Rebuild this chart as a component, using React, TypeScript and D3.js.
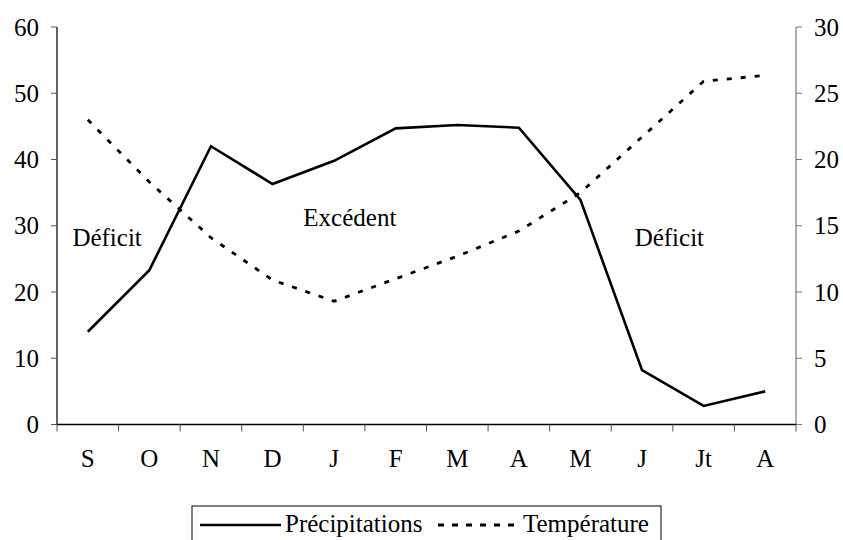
import React from 'react';
import * as d3 from 'd3';

// monthly values
const months = ['S', 'O', 'N', 'D', 'J', 'F', 'M', 'A', 'M', 'J', 'Jt', 'A'];
const precipitations = [14, 23.3, 42, 36.3, 39.8, 44.7, 45.2, 44.8, 33.9, 8.2, 2.8, 5.0];
const temperature = [23, 18.3, 14.1, 10.9, 9.3, 11, 12.7, 14.6, 17.5, 21.7, 25.9, 26.35];
const leftTicks = [0, 10, 20, 30, 40, 50, 60];
const rightTicks = [0, 5, 10, 15, 20, 25, 30];
const annotations = [
    { text: 'Déficit', x: 0.25, y: 27 },
    { text: 'Excédent', x: 4.0, y: 30 },
    { text: 'Déficit', x: 9.38, y: 27 },
];

const W = 843;
const H = 540;
const left = 57;
const right = 796;
const top = 27;
const bottom = 424.5;
const font = 'Liberation Serif';

export default function App() {
    const idx = months.map((_, i) => i);
    const x = d3.scaleBand<number>().domain(idx).range([left, right]).padding(0);
    const yL = d3.scaleLinear().domain([0, 60]).range([bottom, top]);
    const yR = d3.scaleLinear().domain([0, 30]).range([bottom, top]);
    const cx = (i: number) => (x(i) ?? 0) + x.bandwidth() / 2;

    const precipLine = d3.line<number>().x((_, i) => cx(i)).y(d => yL(d));
    const tempLine = d3.line<number>().x((_, i) => cx(i)).y(d => yR(d));

    // band boundaries for the x ticks
    const bounds = d3.range(months.length + 1).map(i => left + i * x.bandwidth());

    return (
        <svg width={W} height={H} style={{ position: 'absolute', left: 0, top: 0, background: '#fff' }}>
            <g fontFamily={font} fontSize={25} fill="#000">
                {/* left axis */}
                <line x1={left} x2={left} y1={top} y2={bottom} stroke="#000" strokeWidth={1.2} />
                {leftTicks.map(t => (
                    <g key={'l' + t}>
                        <line x1={left - 6} x2={left} y1={yL(t)} y2={yL(t)} stroke="#555" />
                        <text x={39} y={yL(t) + 8.5} textAnchor="end">{t}</text>
                    </g>
                ))}
                {/* right axis */}
                <line x1={right} x2={right} y1={top} y2={bottom} stroke="#777" strokeWidth={1.2} />
                {rightTicks.map(t => (
                    <g key={'r' + t}>
                        <line x1={right} x2={right + 6} y1={yR(t)} y2={yR(t)} stroke="#777" />
                        <text x={814} y={yR(t) + 8.5} textAnchor="start">{t}</text>
                    </g>
                ))}
                {/* x axis */}
                <line x1={left} x2={right} y1={bottom} y2={bottom} stroke="#000" strokeWidth={1.5} />
                {bounds.map((b, i) => (
                    <line key={'xt' + i} x1={b} x2={b} y1={bottom} y2={bottom + 7} stroke="#555" />
                ))}
                {months.map((m, i) => (
                    <text key={'m' + i} x={cx(i)} y={467} textAnchor="middle">{m}</text>
                ))}

                {/* series */}
                <path d={precipLine(precipitations) ?? ''} fill="none" stroke="#000" strokeWidth={2.6}
                    strokeLinejoin="miter" />
                <path d={tempLine(temperature) ?? ''} fill="none" stroke="#000" strokeWidth={2.8}
                    strokeDasharray="5,9" />

                {annotations.map((a, i) => (
                    <text key={'a' + i} x={left + a.x * x.bandwidth()} y={yL(a.y)}>{a.text}</text>
                ))}

                {/* legend */}
                <rect x={192} y={506} width={469} height={40} fill="#fff" stroke="#000" strokeWidth={1} />
                <line x1={200} x2={281} y1={525} y2={525} stroke="#000" strokeWidth={2.6} />
                <text x={285} y={532}>Précipitations</text>
                <line x1={438} x2={520} y1={525} y2={525} stroke="#000" strokeWidth={2.8} strokeDasharray="6,8" />
                <text x={523} y={532}>Température</text>
            </g>
        </svg>
    );
}
